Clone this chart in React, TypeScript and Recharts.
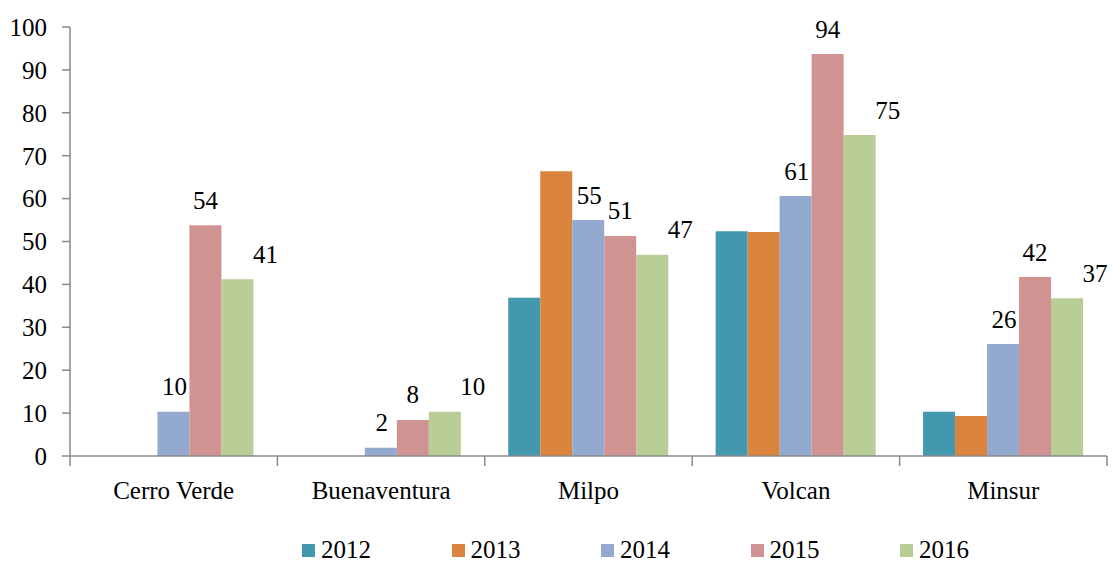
import { BarChart, Bar, XAxis, YAxis, Legend, LabelList } from "recharts";

const companies = ["Cerro Verde", "Buenaventura", "Milpo", "Volcan", "Minsur"];
const years = ["2012", "2013", "2014", "2015", "2016"];
const v2012 = [0, 0, 36.9, 52.4, 10.3];
const v2013 = [0, 0, 66.4, 52.2, 9.3];
const v2014 = [10.3, 1.9, 55.0, 60.6, 26.1];
const v2015 = [53.8, 8.4, 51.3, 93.7, 41.7];
const v2016 = [41.2, 10.3, 46.9, 74.8, 36.8];
const yTicks = [0, 10, 20, 30, 40, 50, 60, 70, 80, 90, 100];

const colors = ["#4198AF", "#DB843D", "#93A9CF", "#D19392", "#B9CD96"];
const font = "Liberation Serif, Times New Roman, serif";
const fs = 25;
const axisColor = "#8a8a8a";

const data = companies.map((name, i) => ({
  name,
  "2012": v2012[i],
  "2013": v2013[i],
  "2014": v2014[i],
  "2015": v2015[i],
  "2016": v2016[i],
}));

const makeLabel = (dx: number) => (props: any) => {
  const { x, y, width, value } = props;
  return (
    <text
      x={Number(x) + Number(width) / 2 + dx}
      y={Number(y) - 25}
      textAnchor="middle"
      dominantBaseline="central"
      fontFamily={font}
      fontSize={fs}
      fill="#000"
    >
      {Math.round(Number(value))}
    </text>
  );
};

const CategoryTick = (props: any) => {
  const { x, y, payload, index } = props;
  const half = payload.offset || 103.7;
  return (
    <g>
      <line x1={x - half} y1={y - 8} x2={x - half} y2={y + 2} stroke={axisColor} strokeWidth={1.5} />
      {index === companies.length - 1 && (
        <line x1={x + half} y1={y - 8} x2={x + half} y2={y + 2} stroke={axisColor} strokeWidth={1.5} />
      )}
      <text x={x} y={y + 35} textAnchor="middle" fontFamily={font} fontSize={fs} fill="#000">
        {payload.value}
      </text>
    </g>
  );
};

const LegendContent = () => (
  <div style={{ display: "flex", fontFamily: font, fontSize: fs, height: 26, lineHeight: "26px" }}>
    {years.map((yr, i) => (
      <div key={yr} style={{ width: 149.5, display: "flex", alignItems: "center" }}>
        <span style={{ width: 13, height: 13, background: colors[i], marginRight: 6, display: "inline-block" }} />
        <span>{yr}</span>
      </div>
    ))}
  </div>
);

export default function App() {
  return (
    <div style={{ position: "absolute", left: 0, top: 0, background: "#fff", fontFamily: font }}>
      <BarChart
        width={1113}
        height={562}
        data={data}
        margin={{ top: 27, right: 6, bottom: 50, left: 0 }}
        barCategoryGap="11.3%"
        barGap={0}
      >
        <XAxis
          dataKey="name"
          height={30}
          axisLine={{ stroke: axisColor, strokeWidth: 1.5 }}
          tickLine={false}
          tick={<CategoryTick />}
          interval={0}
        />
        <YAxis
          width={70}
          domain={[0, 100]}
          ticks={yTicks}
          interval={0}
          axisLine={{ stroke: axisColor, strokeWidth: 1.5 }}
          tickLine={{ stroke: axisColor, strokeWidth: 1.5 }}
          tickSize={8}
          tickMargin={15}
          tick={{ fill: "#000", fontFamily: font, fontSize: fs }}
        />
        <Legend
          content={<LegendContent />}
          wrapperStyle={{ left: 302, top: 537, width: 760, height: 26 }}
        />
        {years.map((yr, i) => (
          <Bar key={yr} dataKey={yr} fill={colors[i]} isAnimationActive={false}>
            {i === 2 && <LabelList dataKey={yr} content={makeLabel(1)} />}
            {i === 3 && <LabelList dataKey={yr} content={makeLabel(0)} />}
            {i === 4 && <LabelList dataKey={yr} content={makeLabel(28)} />}
          </Bar>
        ))}
      </BarChart>
    </div>
  );
}
